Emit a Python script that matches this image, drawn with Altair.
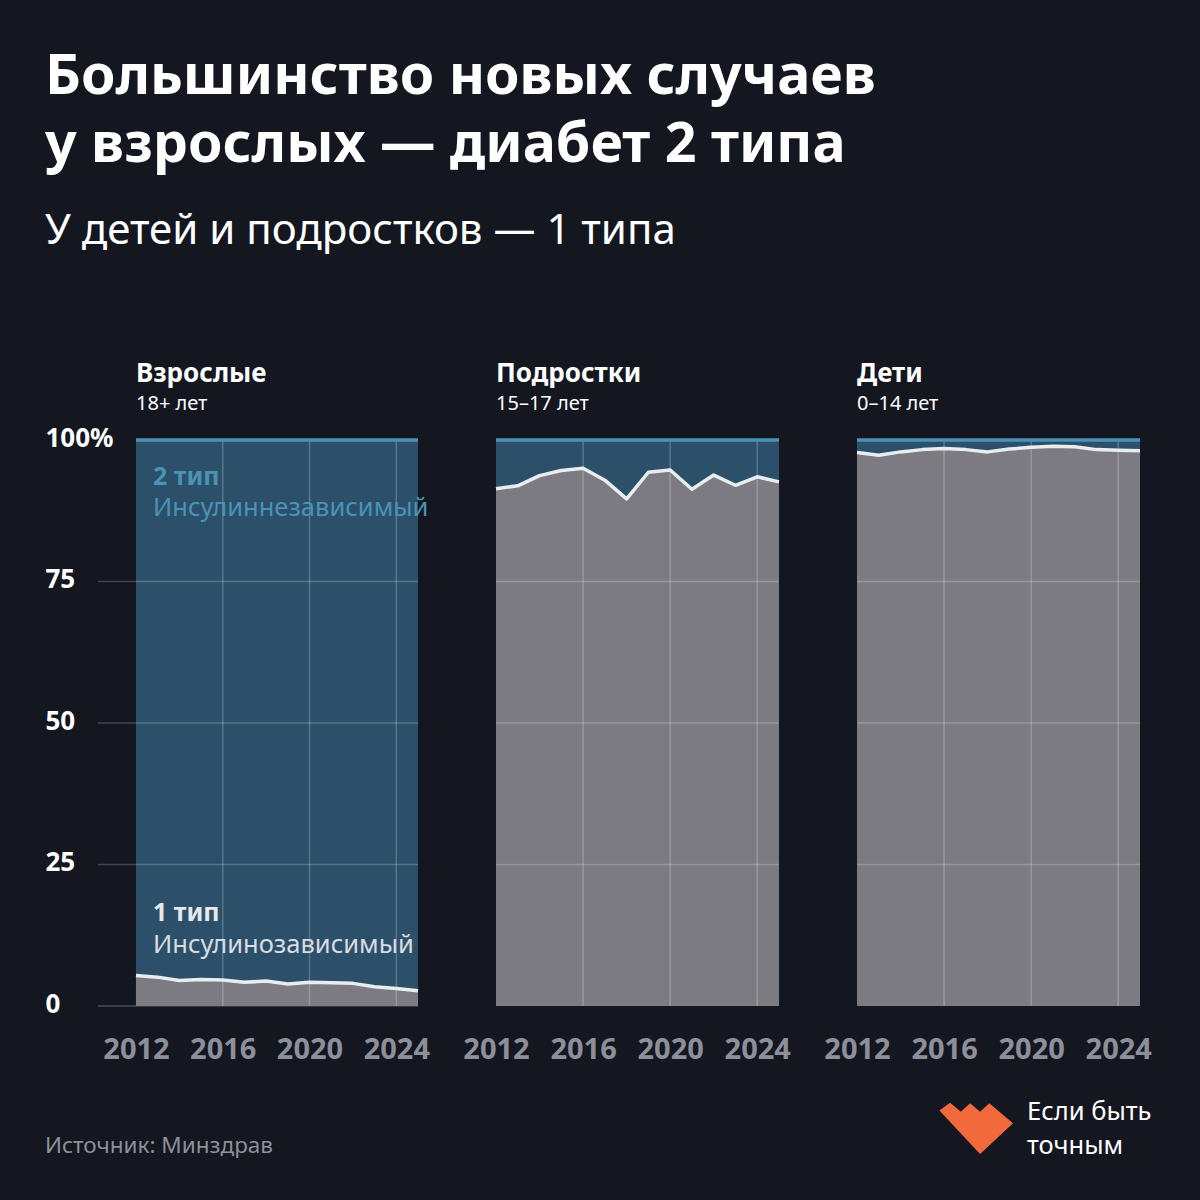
import altair as alt
import pandas as pd

# ---- data (share of type-1 diabetes among new cases, %) ----
years = list(range(2012, 2026))
adults_t1 = [5.4, 5.1, 4.5, 4.7, 4.6, 4.2, 4.4, 3.9, 4.2, 4.1, 4.0, 3.4, 3.1, 2.7]
teens_t1 = [91.4, 91.9, 93.7, 94.6, 95.0, 92.9, 89.6, 94.3, 94.7, 91.3, 93.8, 92.0, 93.5, 92.6]
kids_t1 = [97.8, 97.3, 97.9, 98.3, 98.5, 98.3, 97.9, 98.4, 98.7, 98.9, 98.8, 98.3, 98.2, 98.1]

panel_titles = ["Взрослые", "Подростки", "Дети"]
panel_subtitles = ["18+ лет", "15–17 лет", "0–14 лет"]
x_ticks = [2012, 2016, 2020, 2024]
y_ticks = [0, 25, 50, 75, 100]
grid_y = [25, 50, 75]
grid_x = [2016, 2020, 2024]

title_lines = ["Большинство новых случаев", "у взрослых — диабет 2 типа"]
subtitle = "У детей и подростков — 1 типа"
source = "Источник: Минздрав"
logo_lines = ["Если быть", "точным"]

BG = "#141620"
BLUE = "#2c5069"
BLUE_LINE = "#4a93b7"
GRAY = "#7b7b81"
WHITE_LINE = "#e8edf0"
FONT = "Noto Sans"
H = 566


def panel(values, idx, width, x_domain, show_y):
    df = pd.DataFrame({"year": years, "t1": values})
    xs = alt.Scale(domain=x_domain, nice=False, zero=False)
    ys = alt.Scale(domain=[0, 100], nice=False)
    xaxis = alt.Axis(values=x_ticks, format="d", title=None, grid=False, domain=False,
                     ticks=False, labelFont=FONT, labelFontSize=29, labelFontWeight="bold",
                     labelColor="#8d909b", labelPadding=29, labelFlush=False)
    if show_y:
        yaxis = alt.Axis(values=y_ticks, title=None, grid=False, domain=False, ticks=False,
                         tickSize=0, labelAlign="left", labelPadding=53, labelBaseline="middle",
                         labelFont=FONT, labelFontSize=26, labelFontWeight="bold",
                         labelColor="#ffffff", labelOffset=-2,
                         labelExpr="datum.value == 100 ? '100%' : datum.label")
    else:
        yaxis = None

    X = lambda f: alt.X(f, scale=xs, axis=xaxis)
    Y = lambda f: alt.Y(f, scale=ys, axis=yaxis)

    base = alt.Chart(df)
    blue = base.transform_calculate(top="100").mark_area(color=BLUE, opacity=1).encode(
        x=X("year:Q"), y=Y("top:Q"))
    gray = base.mark_area(color=GRAY, opacity=1).encode(x=X("year:Q"), y=Y("t1:Q"))

    layers = [blue, gray]
    if show_y:
        baseline = alt.Chart(pd.DataFrame({"g": [0]})).mark_rule(
            color="#3a3d4a", strokeWidth=2).encode(
            y=Y("g:Q"), x=alt.value(0), x2=alt.value(width))
        layers.insert(0, baseline)

    hgrid = alt.Chart(pd.DataFrame({"g": grid_y})).mark_rule(
        color="#ffffff", opacity=0.2, strokeWidth=1.5).encode(
        y=Y("g:Q"), x=alt.value(0), x2=alt.value(width))
    vgrid = alt.Chart(pd.DataFrame({"g": grid_x})).mark_rule(
        color="#ffffff", opacity=0.22, strokeWidth=1.5).encode(
        x=X("g:Q"), y=alt.value(0), y2=alt.value(H))
    top = base.transform_calculate(top="100").mark_line(
        color=BLUE_LINE, strokeWidth=3.5).encode(x=X("year:Q"), y=Y("top:Q"))
    line = base.mark_line(color=WHITE_LINE, strokeWidth=3.5, strokeJoin="round").encode(
        x=X("year:Q"), y=Y("t1:Q"))
    layers += [hgrid, vgrid, top, line]

    dx = 38 if show_y else 0
    one = alt.Data(values=[{}])
    t = alt.Chart(one).mark_text(text=panel_titles[idx], font=FONT, fontSize=26,
                                 fontWeight="bold", color="#ffffff", align="left",
                                 baseline="alphabetic").encode(
        x=alt.value(dx), y=alt.value(-58))
    st = alt.Chart(one).mark_text(text=panel_subtitles[idx], font=FONT, fontSize=20,
                                  color="#ffffff", align="left",
                                  baseline="alphabetic").encode(
        x=alt.value(dx), y=alt.value(-30))
    layers += [t, st]
    return alt.layer(*layers).properties(width=width, height=H)


p1 = panel(adults_t1, 0, 320, [2010.25, 2025], True)
p2 = panel(teens_t1, 1, 283, [2012, 2025], False)
p3 = panel(kids_t1, 2, 283, [2012, 2025], False)

one = alt.Data(values=[{}])


def txt(text, x, y, size, weight="normal", color="#ffffff"):
    return alt.Chart(one).mark_text(text=text, font=FONT, fontSize=size, fontWeight=weight,
                                    color=color, align="left", baseline="alphabetic").encode(
        x=alt.value(x), y=alt.value(y))


def anchor(x, y):
    # invisible 1px rect that pins the canvas corner
    return alt.Chart(one).mark_rect(opacity=0, color=BG).encode(
        x=alt.value(x), x2=alt.value(x + 1), y=alt.value(y), y2=alt.value(y + 1))


# headline, annotations and source in panel 1
extras1 = [
    anchor(-98, -440),
    txt(title_lines[0], -53, -346, 55.5, "bold"),
    txt(title_lines[1], -53, -278, 55.5, "bold"),
    txt(subtitle, -53, -196, 42),
    txt("2 тип", 55, 45, 25, "bold", BLUE_LINE),
    txt("Инсулиннезависимый", 55, 76, 25.5, "normal", BLUE_LINE),
    txt("1 тип", 55, 481, 25, "bold", "#e6e8ea"),
    txt("Инсулинозависимый", 55, 513, 25.5, "normal", "#d9dde1"),
    txt(source, -53, 713, 22.5, "normal", "#8d909b"),
]
p1 = alt.layer(p1, *extras1)

heart = ("M-0.99,-0.47 L-0.70,-0.68 L-0.41,-0.44 L-0.16,-0.67 L0.11,-0.44 "
         "L0.36,-0.67 L1.0,-0.13 L0.11,0.70 Z")
logo = alt.Chart(one).mark_point(shape=heart, filled=True, color="#f26a3b", opacity=1,
                                 size=5476, strokeWidth=0).encode(
    x=alt.value(119), y=alt.value(688))
extras3 = [
    logo,
    txt(logo_lines[0], 170, 680, 25.5),
    txt(logo_lines[1], 170, 714, 25.5),
    anchor(342, 759),
]
p3 = alt.layer(p3, *extras3)

chart = alt.hconcat(p1, p2, p3, spacing=78, bounds="flush").properties(
    background=BG,
    autosize=alt.AutoSizeParams(type="pad"),
    padding=0,
).configure_view(stroke=None)

chart.save("out.html", embed_options={"renderer": "svg", "actions": False})
